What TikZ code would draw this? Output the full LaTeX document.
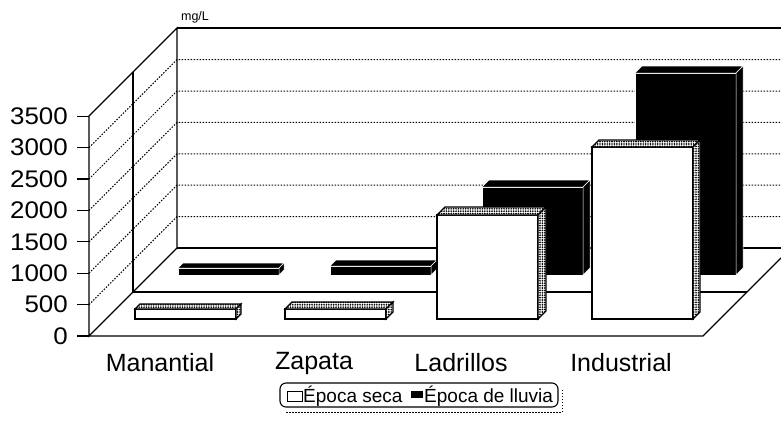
\documentclass[tikz,border=0pt]{standalone}
\usepackage{fontspec}
\setmainfont{Liberation Sans}
\usetikzlibrary{patterns.meta}

\begin{document}
\begin{tikzpicture}[x=1pt,y=-1pt,
        wall/.style={line width=1.1pt},
        gridline/.style={line width=1pt, dash pattern=on 1.5pt off 1.5pt},
        secafront/.style={draw=black, line width=1.1pt, fill=white},
        secaedge/.style={draw=black, line width=1.1pt, preaction={fill=white}, pattern={Dots[distance=2.4pt, radius=0.95pt]}},
        lluvia/.style={draw=white, line width=0.5pt, fill=black},
        ticklab/.style={anchor=east, inner sep=0pt, xscale=1.08, font=\fontsize{24}{24}\selectfont},
        catlab/.style={inner sep=0pt, font=\fontsize{25}{25}\selectfont},
        leglab/.style={anchor=west, inner sep=0pt, font=\fontsize{19}{19}\selectfont}]
        \useasboundingbox (0,0) rectangle (781,420);

        % unit label
        \node[inner sep=0pt, font=\fontsize{12.5}{12.5}\selectfont] (unidad) at (195,17) {mg/L};

        % left wall and back wall
        \coordinate (fb) at (89,336);
        \coordinate (ft) at (89,116);
        \coordinate (mb) at (133,292);
        \coordinate (mt) at (133,72);
        \coordinate (bb) at (177,248);
        \coordinate (bt) at (177,28);
        \foreach \k in {1,...,6} {
            \draw[gridline] (89,336-31.4*\k) -- (177,248-31.4*\k) -- (781,248-31.4*\k);
        }
        \draw[wall] (ft) -- (fb) -- (bb) -- (bt) -- cycle;
        \draw[wall] (mb) -- (mt);
        \draw[wall] (bt) -- (781,28);

        % floor
        \coordinate (fr) at (703,336);
        \draw[wall] (78,336) -- (fr) -- (781,258);
        \draw[wall] (mb) -- (747,292);
        \draw[wall] (bb) -- (781,248);

        % value axis
        \foreach \v [count=\k from 0] in {0,500,...,3500} {
            \draw[wall] (77,336-31.4*\k) -- (89,336-31.4*\k);
            \node[ticklab] (tick\k) at (68,336-31.4*\k) {\v};
        }

        % back row: Epoca de lluvia
        \foreach \x/\h/\d in {178/7/5, 330/9/6, 482/88/7, 635/202/7} {
            \path[lluvia] (\x,275) rectangle (\x+101,275-\h);
            \path[lluvia] (\x,275-\h) -- (\x+\d,275-\h-\d) -- (\x+101+\d,275-\h-\d) -- (\x+101,275-\h) -- cycle;
            \path[lluvia] (\x+101,275) -- (\x+101,275-\h) -- (\x+101+\d,275-\h-\d) -- (\x+101+\d,275-\d) -- cycle;
        }

        % front row: Epoca seca
        \foreach \x/\h/\d in {135/10/5, 285/10/7, 437/104/8, 592/172/7} {
            \path[secafront] (\x,319) rectangle (\x+101,319-\h);
            \path[secaedge] (\x,319-\h) -- (\x+\d,319-\h-\d) -- (\x+101+\d,319-\h-\d) -- (\x+101,319-\h) -- cycle;
            \path[secaedge] (\x+101,319) -- (\x+101,319-\h) -- (\x+101+\d,319-\h-\d) -- (\x+101+\d,319-\d) -- cycle;
        }

        % categories
        \node[catlab] (manantial) at (160,363) {Manantial};
        \node[catlab] (zapata) at (314,363) {Zapata};
        \node[catlab] (ladrillos) at (461,363) {Ladrillos};
        \node[catlab] (industrial) at (621,363) {Industrial};

        % legend
        \draw[gridline] (286,412) -- (562,412) -- (562,388);
        \draw[wall, rounded corners=6pt, fill=white] (280,383) rectangle (558,407);
        \draw[line width=0.9pt] (287,391) rectangle (302,401);
        \node[leglab] (lseca) at (303,396) {Época seca};
        \fill (411,391) rectangle (423,398);
        \node[leglab] (llluvia) at (424,396) {Época de lluvia};
\end{tikzpicture}
\end{document}
